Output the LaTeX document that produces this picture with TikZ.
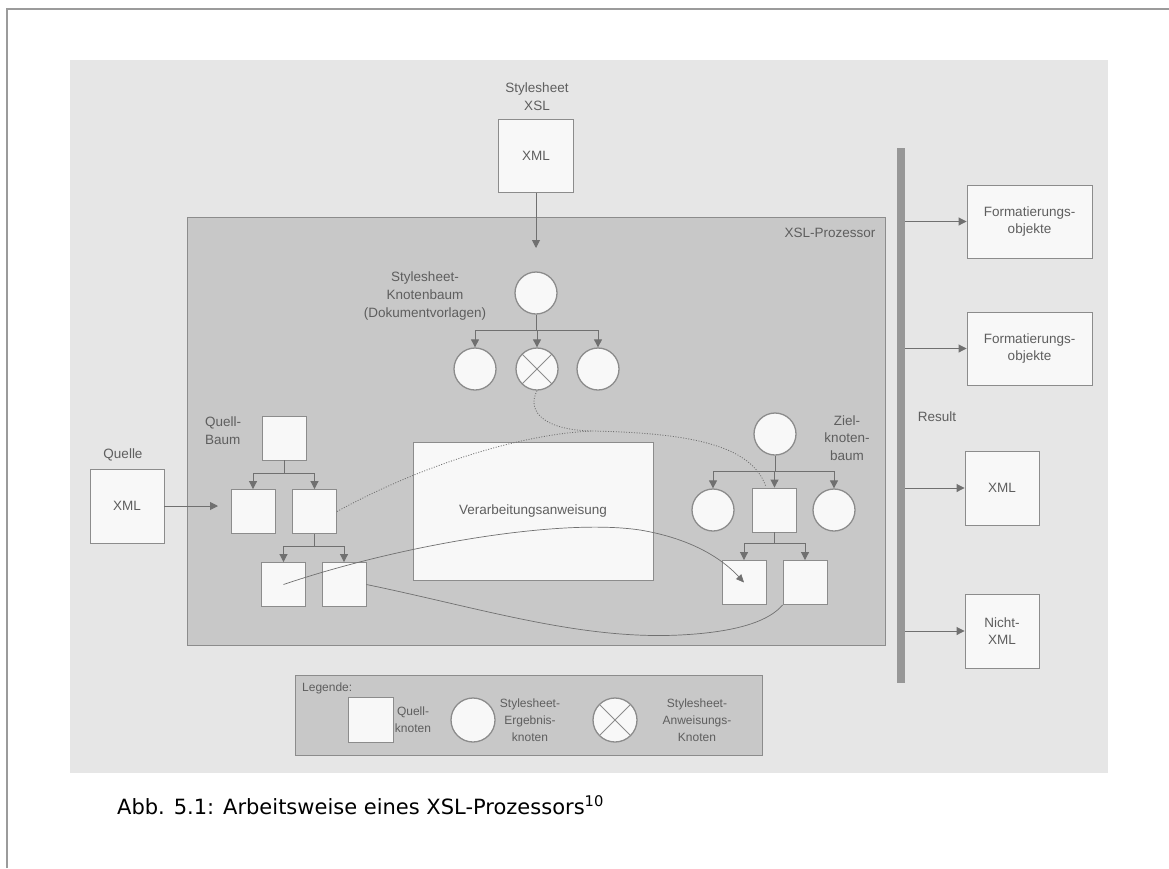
\documentclass[tikz,border=0pt]{standalone}
\usepackage{fontspec}
\setmainfont{Liberation Sans}
\newfontfamily\captionfont{DejaVu Sans}
\usetikzlibrary{arrows.meta}
\definecolor{scan}{HTML}{E6E6E6}
\definecolor{prozgrau}{HTML}{C8C8C8}
\definecolor{linie}{HTML}{707070}
\definecolor{kante}{HTML}{8C8C8C}
\definecolor{schrift}{HTML}{5E5E5E}
\definecolor{rahmen}{HTML}{9B9B9B}
\definecolor{balkengrau}{HTML}{979797}
\definecolor{weiss}{HTML}{F8F8F8}
\tikzset{
	knoten/.style={draw=kante, fill=weiss, line width=0.9pt, minimum size=44pt, inner sep=0pt},
	ergebnis/.style={circle, draw=kante, fill=weiss, line width=1.3pt, minimum size=42pt, inner sep=0pt},
	anweisung/.style={ergebnis,
			path picture={\draw[kante, line width=0.9pt]
					(path picture bounding box.north west) -- (path picture bounding box.south east)
					(path picture bounding box.north east) -- (path picture bounding box.south west);}},
	beschriftung/.style={text=schrift, font=\fontsize{13.5}{17.8}\selectfont, align=center, inner sep=0pt},
	legendtext/.style={beschriftung, font=\fontsize{12}{17}\selectfont},
	ausgabe/.style={draw=kante, fill=weiss, line width=0.9pt, inner sep=0pt, beschriftung},
	ast/.style={draw=linie, line width=0.9pt},
	pfeil/.style={ast, -{Triangle[length=8pt,width=8pt]}},
	punktiert/.style={draw=linie, line width=0.8pt, dash pattern=on 1pt off 1.6pt}
}

\begin{document}
\begin{tikzpicture}[x=1pt, y=-1pt]
	\useasboundingbox (0,0) rectangle (1169,868);

	% Seite und eingescannte Abbildung
	\draw[rahmen, line width=2pt] (7,868) -- (7,9) -- (1169,9);
	\fill[scan] (70,60) rectangle (1108,773);

	% XSL-Prozessor
	\filldraw[fill=prozgrau, draw=kante, line width=0.9pt] (187,217) rectangle (885,645);
	\node[beschriftung] (prozlabel) at (830,233) {XSL-Prozessor};

	% Stylesheet
	\node[beschriftung] (xsllabel) at (537,97) {Stylesheet\\XSL};
	\node[ausgabe, minimum width=75pt, minimum height=73pt] (xsl) at (536,156) {XML};
	\coordinate (xslein) at (536,248);
	\draw[pfeil] (xsl.south) -- (xslein);

	\node[beschriftung] (slabel) at (425,296) {Stylesheet-\\Knotenbaum\\(Dokumentvorlagen)};
	\node[ergebnis] (s0) at (536,293) {};
	\node[ergebnis] (s1) at (475,369) {};
	\node[anweisung] (s2) at (537,369) {};
	\node[ergebnis] (s3) at (598,369) {};
	\draw[ast] (s0.south) -- ++(0,16) coordinate (sa);
	\foreach \k in {s1,s2,s3}
		\draw[pfeil] (sa) -| (\k.north);

	% Quelle
	\node[beschriftung] (quellelabel) at (123,455) {Quelle};
	\node[ausgabe, minimum size=74pt] (quelle) at (127,506) {XML};
	\coordinate (qein) at (218,506);
	\draw[pfeil] (quelle.east) -- (qein);

	% Quell-Baum
	\node[beschriftung, anchor=west, align=left] (qlabel) at (205,431) {Quell-\\Baum};
	\node[knoten] (q0) at (284.5,438) {};
	\node[knoten] (q1) at (253,511.5) {};
	\node[knoten] (q2) at (314.5,511.5) {};
	\node[knoten] (q3) at (283.5,584.5) {};
	\node[knoten] (q4) at (344,584.5) {};
	\draw[ast] (q0.south) -- ++(0,13) coordinate (qa);
	\draw[pfeil] (qa) -| (q1.north);
	\draw[pfeil] (qa) -| (q2.north);
	\draw[ast] (q2.south) -- ++(0,12) coordinate (qb);
	\draw[pfeil] (qb) -| (q3.north);
	\draw[pfeil] (qb) -| (q4.north);

	% Verarbeitung
	\node[ausgabe, minimum width=240pt, minimum height=138pt] (verarb) at (533,511) {Verarbeitungsanweisung};

	% Ziel-Baum
	\node[beschriftung] (zlabel) at (847,438) {Ziel-\\knoten-\\baum};
	\node[ergebnis] (z0) at (775,434) {};
	\node[ergebnis] (z1) at (713,510) {};
	\node[knoten] (z2) at (774.5,510) {};
	\node[ergebnis] (z5) at (834,510) {};
	\node[knoten] (z3) at (744,582.5) {};
	\node[knoten] (z4) at (805,582.5) {};
	\draw[ast] (z0.south) -- ++(0,16) coordinate (za);
	\foreach \k in {z1,z2,z5}
		\draw[pfeil] (za) -| (\k.north);
	\draw[ast] (z2.south) -- ++(0,11) coordinate (zb);
	\draw[pfeil] (zb) -| (z3.north);
	\draw[pfeil] (zb) -| (z4.north);

	% Zuordnungen
	\coordinate (treffen) at (592,431);
	\coordinate (zielpunkt) at (766,487);
	\draw[punktiert] (s2.south) .. controls (526,412) and (545,430) .. (treffen)
		.. controls (690,433) and (752,445) .. (zielpunkt);
	\draw[punktiert] (q2.east) .. controls (420,466) and (520,434) .. (treffen);
	\draw[ast, line width=0.7pt, -{Triangle[length=8pt,width=7pt]}] (q3.center)
		.. controls (400,545) and (560,518) .. (640,530)
		.. controls (700,540) and (728,565) .. (z3.center);
	\draw[ast, line width=0.7pt] (q4.east) .. controls (480,608) and (580,640) .. (680,635)
		.. controls (740,632) and (770,620) .. (z4.south west);

	% Result
	\node[fill=balkengrau, minimum width=8pt, minimum height=535pt, inner sep=0pt] (result) at (901,415.5) {};
	\node[beschriftung] (resultlabel) at (937,417) {Result};
	\node[ausgabe, minimum width=125pt, minimum height=73pt] (f1) at (1029.5,221.5) {Formatierungs-\\objekte};
	\node[ausgabe, minimum width=125pt, minimum height=73pt] (f2) at (1029.5,348.5) {Formatierungs-\\objekte};
	\node[ausgabe, minimum size=74pt] (x1) at (1002,488) {XML};
	\node[ausgabe, minimum size=74pt] (n1) at (1002,631) {Nicht-\\XML};
	\foreach \k in {f1,f2,x1,n1}
		\draw[pfeil] (result.east |- \k.west) -- (\k.west);

	% Legende
	\filldraw[fill=prozgrau, draw=kante, line width=0.9pt] (295,675) rectangle (762,755);
	\node[legendtext, anchor=west] (legende) at (302,688) {Legende:};
	\node[knoten, minimum size=45pt] (lq) at (370.5,720) {};
	\node[legendtext] (lqtext) at (413,720) {Quell-\\knoten};
	\node[ergebnis, minimum size=44pt] (le) at (473,720) {};
	\node[legendtext] (letext) at (530,720) {Stylesheet-\\Ergebnis-\\knoten};
	\node[anweisung, minimum size=44pt] (la) at (615,720) {};
	\node[legendtext] (latext) at (697,720) {Stylesheet-\\Anweisungs-\\Knoten};

	% Bildunterschrift
	\node[anchor=base west, inner sep=0pt, font=\captionfont\fontsize{21}{25}\selectfont] (caption) at (117,814)
		{Abb. 5.1: Arbeitsweise eines XSL-Prozessors\textsuperscript{10}};
\end{tikzpicture}
\end{document}
